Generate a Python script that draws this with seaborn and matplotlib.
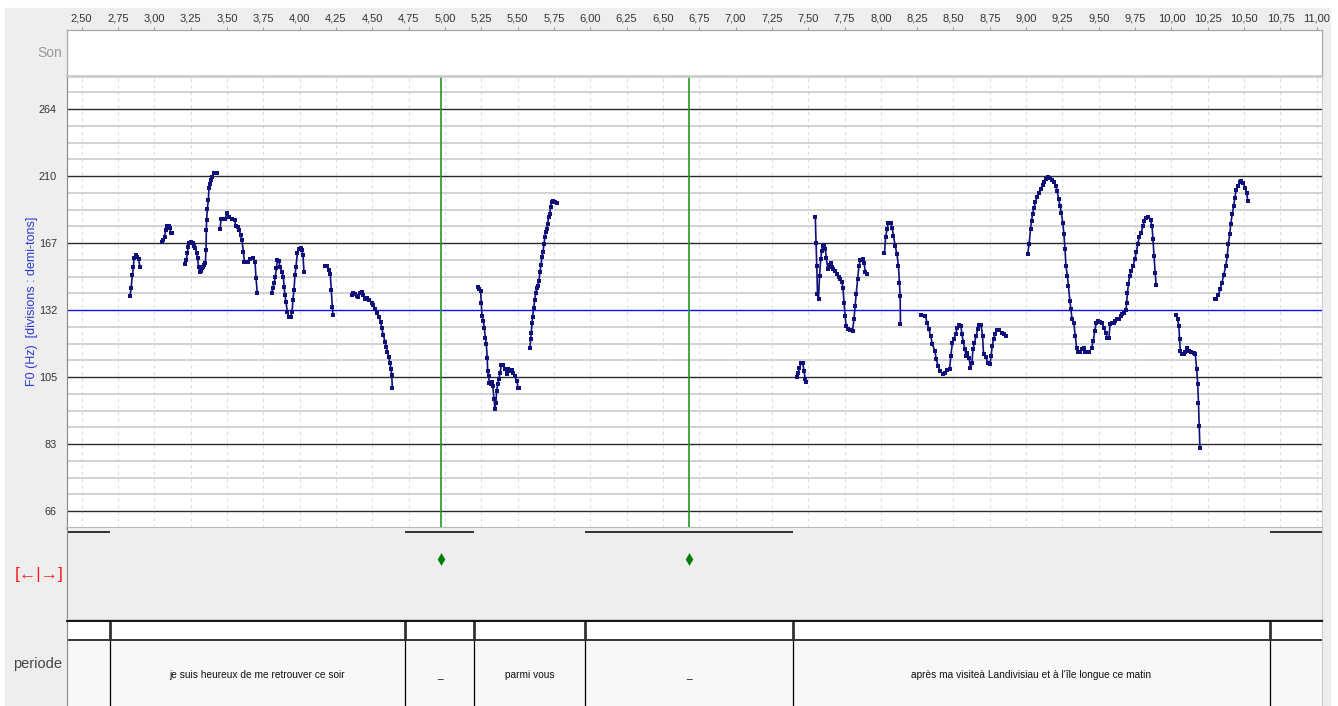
import matplotlib
matplotlib.use('Agg')

import numpy as np
import pandas as pd
import matplotlib.pyplot as plt
import seaborn as sns
from matplotlib.patches import Rectangle

# F0 contour, one list pair per voiced stretch: time (s) and F0 in semitones above 66 Hz
seg01_t = [2.833, 2.840, 2.849, 2.856, 2.860, 2.872, 2.883, 2.892, 2.901]
seg01_st = [12.85, 13.29, 14.09, 14.58, 15.08, 15.28, 15.18, 15.02, 14.58]

seg02_t = [3.055, 3.062, 3.071, 3.078, 3.085, 3.099, 3.108, 3.113, 3.122]
seg02_st = [16.08, 16.21, 16.37, 16.77, 17.03, 17.03, 16.87, 16.61, 16.61]

seg03_t = [3.213, 3.220, 3.227, 3.234, 3.241, 3.252, 3.264, 3.273, 3.282, 3.291,
           3.298, 3.305, 3.312, 3.319, 3.326, 3.335, 3.344, 3.351, 3.356, 3.358,
           3.360, 3.365, 3.372, 3.376, 3.383, 3.390, 3.399, 3.408, 3.420, 3.434]
seg03_st = [14.72, 14.98, 15.38, 15.78, 16.02, 16.04, 15.98, 15.82, 15.68, 15.42,
            15.08, 14.58, 14.29, 14.33, 14.52, 14.58, 14.66, 14.82, 15.58, 16.77,
            17.37, 18.06, 18.56, 19.26, 19.55, 19.79, 19.95, 20.15, 20.19, 20.19]

seg04_t = [3.452, 3.459, 3.470, 3.486, 3.500, 3.516, 3.537, 3.553, 3.560, 3.574,
           3.585, 3.594, 3.603, 3.613, 3.620, 3.647, 3.661, 3.681, 3.693, 3.700, 3.709]
seg04_st = [16.81, 17.41, 17.41, 17.41, 17.81, 17.53, 17.43, 17.37, 17.01, 16.93,
            16.77, 16.47, 16.17, 15.48, 14.88, 14.88, 15.04, 15.08, 14.88, 13.89, 12.99]

seg05_t = [3.808, 3.815, 3.824, 3.833, 3.840, 3.847, 3.856, 3.865, 3.876, 3.888,
           3.893, 3.899, 3.906, 3.915, 3.925, 3.938, 3.948, 3.954, 3.961, 3.968,
           3.975, 3.984, 3.993, 4.007, 4.016, 4.023, 4.030]
seg05_st = [12.99, 13.29, 13.59, 13.99, 14.49, 14.98, 14.94, 14.58, 14.29, 13.99,
            13.39, 12.89, 12.50, 11.90, 11.60, 11.60, 11.90, 12.60, 13.19, 14.09,
            14.58, 15.38, 15.66, 15.68, 15.58, 15.28, 14.29]

seg06_t = [4.175, 4.191, 4.202, 4.211, 4.218, 4.225, 4.230]
seg06_st = [14.64, 14.62, 14.39, 14.15, 13.19, 12.20, 11.70]

seg07_t = [4.358, 4.370, 4.381, 4.393, 4.404, 4.416, 4.427, 4.438, 4.450, 4.466,
           4.480, 4.496, 4.507, 4.521, 4.535, 4.546, 4.558, 4.565, 4.576, 4.588,
           4.595, 4.604, 4.613, 4.622, 4.629, 4.634, 4.638]
seg07_st = [12.89, 12.99, 12.95, 12.85, 12.80, 12.99, 13.09, 12.89, 12.64, 12.70,
            12.60, 12.44, 12.30, 12.08, 11.84, 11.60, 11.30, 10.91, 10.51, 10.11,
            9.82, 9.51, 9.22, 8.82, 8.46, 8.12, 7.33]

seg08_t = [5.225, 5.236, 5.246, 5.250, 5.255, 5.264, 5.271, 5.278, 5.285, 5.291,
           5.294, 5.301, 5.305, 5.315, 5.322, 5.329, 5.338, 5.344, 5.351, 5.356,
           5.363, 5.372, 5.379, 5.388, 5.402, 5.415, 5.425, 5.436, 5.448, 5.459,
           5.470, 5.482, 5.494, 5.505, 5.512]
seg08_st = [13.39, 13.23, 13.13, 12.44, 11.64, 11.34, 10.95, 10.35, 9.95, 9.16,
            8.36, 8.06, 7.67, 7.57, 7.71, 7.47, 6.67, 6.12, 6.47, 7.17,
            7.57, 7.90, 8.22, 8.70, 8.70, 8.46, 8.16, 8.46, 8.36, 8.40,
            8.26, 8.06, 7.77, 7.33, 7.37]

seg09_t = [5.585, 5.590, 5.594, 5.599, 5.604, 5.611, 5.618, 5.625, 5.632, 5.638,
           5.647, 5.654, 5.661, 5.668, 5.675, 5.682, 5.689, 5.693, 5.700, 5.707,
           5.714, 5.721, 5.728, 5.734, 5.746, 5.757, 5.773]
seg09_st = [9.71, 10.30, 10.60, 11.20, 11.59, 12.15, 12.59, 12.99, 13.29, 13.42,
            13.74, 14.28, 14.68, 15.17, 15.47, 15.97, 16.37, 16.67, 16.81, 17.16,
            17.56, 17.76, 18.16, 18.46, 18.52, 18.46, 18.40]

seg10_t = [7.422, 7.432, 7.439, 7.451, 7.463, 7.471, 7.480, 7.483]
seg10_st = [8.02, 8.25, 8.55, 8.81, 8.81, 8.35, 7.86, 7.70]

seg11_t = [7.549, 7.554, 7.559, 7.564, 7.571, 7.578, 7.586, 7.593, 7.600, 7.610,
           7.617, 7.625, 7.634, 7.644, 7.654, 7.664, 7.674, 7.686, 7.698, 7.710,
           7.720, 7.732, 7.739, 7.747, 7.754, 7.761, 7.771, 7.788, 7.805, 7.815,
           7.823, 7.830, 7.840, 7.849, 7.859, 7.874, 7.884, 7.893, 7.903]
seg11_st = [17.58, 16.02, 14.63, 12.94, 12.64, 14.03, 15.03, 15.53, 15.82, 15.86,
            15.67, 15.13, 14.47, 14.67, 14.79, 14.59, 14.43, 14.33, 14.13, 13.99,
            13.83, 13.67, 13.33, 12.44, 11.64, 11.04, 10.88, 10.80, 10.76, 11.44,
            12.24, 12.94, 13.83, 14.63, 14.99, 15.07, 14.83, 14.27, 14.13]

seg12_t = [8.025, 8.033, 8.043, 8.052, 8.067, 8.077, 8.087, 8.099, 8.111, 8.121,
           8.128, 8.133, 8.135]
seg12_st = [15.39, 16.38, 16.82, 17.22, 17.22, 16.92, 16.42, 15.82, 15.33, 14.63,
            13.63, 12.84, 11.18]

seg13_t = [8.277, 8.306, 8.319, 8.331, 8.343, 8.355, 8.372, 8.382, 8.394, 8.409,
           8.429, 8.443, 8.458, 8.473, 8.482, 8.492, 8.502, 8.514, 8.526, 8.541,
           8.551, 8.558, 8.568, 8.578, 8.587, 8.595, 8.607, 8.617, 8.627, 8.634,
           8.644, 8.656, 8.666, 8.675, 8.690, 8.700, 8.707, 8.722, 8.737, 8.751,
           8.759, 8.766, 8.776, 8.785, 8.798, 8.812, 8.832, 8.849, 8.864]
seg13_st = [11.68, 11.64, 11.24, 10.84, 10.45, 9.95, 9.55, 9.05, 8.65, 8.35,
            8.16, 8.22, 8.41, 8.49, 9.25, 10.05, 10.25, 10.55, 10.94, 11.08,
            11.04, 10.55, 10.09, 9.65, 9.25, 9.41, 9.15, 8.55, 8.85, 9.65,
            10.05, 10.45, 10.84, 11.08, 11.08, 10.45, 9.35, 9.21, 8.81, 8.77,
            9.25, 9.85, 10.25, 10.55, 10.80, 10.80, 10.65, 10.55, 10.45]

seg14_t = [9.010, 9.020, 9.030, 9.037, 9.044, 9.054, 9.064, 9.076, 9.088, 9.101,
           9.113, 9.125, 9.137, 9.150, 9.162, 9.176, 9.191, 9.203, 9.213, 9.223,
           9.233, 9.242, 9.252, 9.260, 9.267, 9.274, 9.284, 9.291, 9.301, 9.308,
           9.316, 9.328, 9.338, 9.347, 9.357, 9.372, 9.387, 9.396, 9.406, 9.421,
           9.435, 9.450, 9.462, 9.472, 9.482, 9.494, 9.509, 9.523, 9.536, 9.548,
           9.558, 9.570, 9.577, 9.589, 9.602, 9.614, 9.626, 9.638, 9.651, 9.663,
           9.675, 9.687, 9.692, 9.697, 9.704, 9.712, 9.724, 9.736, 9.748, 9.758,
           9.768, 9.778, 9.792, 9.804, 9.814, 9.827, 9.841, 9.856, 9.866, 9.873,
           9.880, 9.888, 9.895]
seg14_st = [15.33, 15.92, 16.82, 17.32, 17.72, 18.12, 18.45, 18.77, 19.01, 19.25,
            19.45, 19.65, 19.85, 19.97, 19.91, 19.77, 19.65, 19.41, 19.11, 18.65,
            18.22, 17.82, 17.22, 16.52, 15.67, 14.63, 14.03, 13.43, 12.54, 12.04,
            11.44, 11.24, 10.45, 9.75, 9.49, 9.49, 9.65, 9.75, 9.49, 9.49,
            9.49, 9.75, 10.15, 10.75, 11.20, 11.34, 11.28, 11.20, 10.94, 10.65,
            10.35, 10.35, 11.14, 11.24, 11.24, 11.34, 11.48, 11.48, 11.64, 11.74,
            11.84, 12.00, 12.44, 13.04, 13.53, 14.03, 14.33, 14.63, 15.03, 15.47,
            15.92, 16.38, 16.62, 17.02, 17.32, 17.52, 17.58, 17.38, 17.02, 16.22,
            15.23, 14.23, 13.47]

seg15_t = [10.032, 10.042, 10.051, 10.056, 10.061, 10.073, 10.086, 10.095, 10.108,
           10.120, 10.134, 10.152, 10.164, 10.174, 10.181, 10.186, 10.191, 10.196]
seg15_st = [11.68, 11.44, 11.04, 10.25, 9.55, 9.35, 9.35, 9.49, 9.75,
            9.55, 9.49, 9.45, 9.35, 8.45, 7.56, 6.46, 5.07, 3.77]

seg16_t = [10.301, 10.310, 10.323, 10.335, 10.347, 10.359, 10.374, 10.384, 10.391,
           10.401, 10.408, 10.418, 10.428, 10.437, 10.445, 10.457, 10.469, 10.481,
           10.494, 10.506, 10.518, 10.525]
seg16_st = [12.64, 12.68, 12.88, 13.24, 13.63, 14.07, 14.63, 15.23, 15.92,
            16.52, 17.12, 17.72, 18.22, 18.71, 19.17, 19.41, 19.65, 19.69,
            19.61, 19.31, 19.01, 18.51]

# y axis: semitone positions of the labelled lines and their Hz labels
f0_tick_st = [0, 4, 8, 12, 16, 20, 24]
f0_tick_labels = ['66', '83', '105', '132', '167', '210', '264']

# markers (green lines / diamonds)
marks_t = [4.97, 6.68]

# "periode" tier
tier_starts = [2.397, 2.695, 4.725, 5.200, 5.964, 7.394, 10.677]
tier_ends = [2.695, 4.725, 5.200, 5.964, 7.394, 10.677, 11.034]
tier_labels = ['', 'je suis heureux de me retrouver ce soir', '_', 'parmi vous', '_',
               "après ma visiteà Landivisiau et à l'île longue ce matin", '']

xtick_vals = np.arange(2.5, 11.001, 0.25)
xtick_labels = [('%.2f' % v).replace('.', ',') for v in xtick_vals]


sns.set_style('white')
plt.rcParams['font.family'] = ['Liberation Sans', 'DejaVu Sans']

W, H = 1338, 706
fig = plt.figure(figsize=(W / 100, H / 100), dpi=100, facecolor='white')
fig.add_artist(Rectangle((5 / W, 0), (1330 - 5) / W, (H - 8) / H,
                         transform=fig.transFigure, color='#eeeeee', zorder=-5))


def px_axes(x0, y0, x1, y1):
    return fig.add_axes([x0 / W, 1 - y1 / H, (x1 - x0) / W, (y1 - y0) / H])


XL = (2.397, 11.034)
X0, X1 = 66.7, 1321.7

# --- Son panel with the time axis on top
ax_son = px_axes(X0, 30, X1, 75.5)
ax_son.set_facecolor('white')
ax_son.set_xlim(XL)
ax_son.set_ylim(0, 1)
ax_son.xaxis.tick_top()
ax_son.set_xticks(xtick_vals)
ax_son.set_xticklabels(xtick_labels)
ax_son.tick_params(axis='x', labelsize=8, labelcolor='#333333', length=2.5,
                   width=0.8, color='#999999', pad=2)
ax_son.set_yticks([])
for side in ['top', 'left', 'right']:
    ax_son.spines[side].set_color('#a8a8a8')
    ax_son.spines[side].set_linewidth(0.9)
ax_son.spines['bottom'].set_visible(False)

# --- F0 panel
ax_f0 = px_axes(X0, 75.5, X1, 527.8)
ax_f0.set_facecolor('white')
ax_f0.set_xlim(XL)
ax_f0.set_ylim(-1, 26)
ax_f0.set_axisbelow(True)
ax_f0.set_xticks(xtick_vals)
ax_f0.set_xticklabels([])
ax_f0.set_yticks(f0_tick_st)
ax_f0.set_yticklabels(f0_tick_labels)
ax_f0.set_yticks(np.arange(-1, 27), minor=True)
ax_f0.tick_params(axis='both', which='both', length=0)
ax_f0.tick_params(axis='y', labelsize=7.8, labelcolor='#333333', pad=7)
ax_f0.grid(axis='y', which='minor', color='#cfcfcf', linewidth=1.3)
ax_f0.grid(axis='y', which='major', color='#2a2a2a', linewidth=1.0)
ax_f0.grid(axis='x', which='major', color='#dedede', linewidth=0.8, linestyle=(0, (3, 3)))
ax_f0.get_ygridlines()[3].set_color('#1010ff')
ax_f0.spines['left'].set_color('#888888')
ax_f0.spines['right'].set_color('#cccccc')
ax_f0.spines['top'].set_color('#c8c8c8')
ax_f0.spines['top'].set_linewidth(1.8)
ax_f0.spines['bottom'].set_color('#b8b8b8')
ax_f0.spines['bottom'].set_linewidth(1.5)

for t in marks_t:
    ax_f0.axvline(t, color='#1f9a1f', linewidth=1.2, zorder=1.5)

seg_t = [seg01_t, seg02_t, seg03_t, seg04_t, seg05_t, seg06_t, seg07_t, seg08_t,
         seg09_t, seg10_t, seg11_t, seg12_t, seg13_t, seg14_t, seg15_t, seg16_t]
seg_st = [seg01_st, seg02_st, seg03_st, seg04_st, seg05_st, seg06_st, seg07_st, seg08_st,
          seg09_st, seg10_st, seg11_st, seg12_st, seg13_st, seg14_st, seg15_st, seg16_st]
df = pd.concat([pd.DataFrame({'t': t, 'st': s, 'seg': i})
                for i, (t, s) in enumerate(zip(seg_t, seg_st))], ignore_index=True)

sns.lineplot(data=df, x='t', y='st', units='seg', estimator=None, sort=False,
             color='#10107a', linewidth=1.2, marker='s', markersize=2.3,
             markeredgewidth=0, legend=False, ax=ax_f0)
ax_f0.set_xlabel('')
ax_f0.set_ylabel('')

# --- marker panel
ax_mid = px_axes(X0, 527.8, X1, 620)
ax_mid.set_facecolor('#eeeeee')
ax_mid.set_xlim(XL)
ax_mid.set_ylim(0, 1)
ax_mid.set_xticks([])
ax_mid.set_yticks([])
ax_mid.spines['top'].set_visible(False)
ax_mid.spines['left'].set_color('#888888')
ax_mid.spines['right'].set_color('#cccccc')
ax_mid.spines['bottom'].set_color('#c8c8c8')
ax_mid.spines['bottom'].set_linewidth(2)
for s0, s1, lab in zip(tier_starts, tier_ends, tier_labels):
    if lab in ('', '_'):
        ax_mid.hlines(0.957, s0, s1, color='black', linewidth=1.1)
sns.scatterplot(x=marks_t, y=[0.663] * len(marks_t), marker='d', s=42,
                color='#008000', linewidth=0, ax=ax_mid, legend=False)

# --- periode tier
ax_tier = px_axes(X0, 621, X1, 706)
ax_tier.set_facecolor('#f8f8f8')
ax_tier.set_xlim(XL)
ax_tier.set_ylim(0, 1)
ax_tier.set_xticks([])
ax_tier.set_yticks([])
strip = (706 - 640) / 85
ax_tier.axhspan(strip, 1, color='white', zorder=0)
ax_tier.axhline(strip, color='black', linewidth=1.1)
ax_tier.spines['top'].set_color('black')
ax_tier.spines['top'].set_linewidth(1.3)
ax_tier.spines['bottom'].set_visible(False)
ax_tier.spines['left'].set_color('#888888')
ax_tier.spines['right'].set_color('#cccccc')
ax_tier.vlines(tier_starts[1:], 0, strip, color='black', linewidth=0.9)
ax_tier.vlines(tier_starts[1:], strip, 1, color='#333333', linewidth=2.0)
for s0, s1, lab in zip(tier_starts, tier_ends, tier_labels):
    if lab:
        ax_tier.text((s0 + s1) / 2, (706 - 675) / 85, lab, ha='center', va='center',
                     fontsize=7.3, color='#111111')

# --- left-side labels
fig.text(62 / W, 1 - 53 / H, 'Son', ha='right', va='center', fontsize=10, color='#9a9a9a')
fig.text(32 / W, 1 - 301 / H, 'F0 (Hz)  [divisions : demi-tons]', rotation=90,
         ha='center', va='center', fontsize=9, color='#2a3ad0')
fig.text(39 / W, 1 - 574 / H, '[\u2190|\u2192]', ha='center', va='center',
         fontsize=12.5, color='#ff1a1a')
fig.text(62 / W, 1 - 664 / H, 'periode', ha='right', va='center', fontsize=10.5,
         color='#444444')

fig.savefig('out.png', dpi=100, facecolor=fig.get_facecolor())
